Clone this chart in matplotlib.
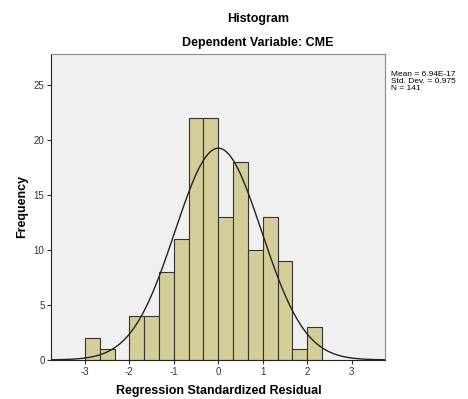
import matplotlib
matplotlib.use("Agg")
import matplotlib.pyplot as plt
import numpy as np

plt.rcParams["font.family"] = ["Liberation Sans", "DejaVu Sans"]

# residual histogram: bin edges every 1/3 from -3 to 2.333
bin_left = np.arange(-9, 7) / 3.0
counts = [2, 1, 0, 4, 4, 8, 11, 22, 22, 13, 18, 10, 13, 9, 1, 3]
bin_width = 1.0 / 3.0

mean_val = 6.94e-17
std_val = 0.975
n_obs = 141

x_ticks = [-3, -2, -1, 0, 1, 2, 3]
y_ticks = [0, 5, 10, 15, 20, 25]

fig = plt.figure(figsize=(4.68, 3.99), dpi=100)
ax = fig.add_axes([0.110, 0.098, 0.713, 0.767])
ax.set_facecolor("#f0f0f0")

ax.bar(bin_left, counts, width=bin_width, align="edge",
       color="#d3ce98", edgecolor="#333333", linewidth=0.8, zorder=2)

# fitted normal curve scaled to counts
xs = np.linspace(-3.75, 3.75, 400)
pdf = np.exp(-0.5 * ((xs - mean_val) / std_val) ** 2) / (std_val * np.sqrt(2 * np.pi))
ax.plot(xs, n_obs * bin_width * pdf, color="#222222", linewidth=1.0, zorder=3)

ax.set_xlim(-3.75, 3.75)
ax.set_ylim(0, 27.8)
ax.set_xticks(x_ticks)
ax.set_xticklabels([str(t) for t in x_ticks])
ax.set_yticks(y_ticks)
ax.tick_params(axis="both", labelsize=7, colors="#333333", length=3, width=0.8,
               direction="out", pad=2)
for side in ("top", "right"):
    ax.spines[side].set_color("#8a8a8a")
for side in ("left", "bottom"):
    ax.spines[side].set_color("#222222")

ax.set_ylabel("Frequency", fontsize=9, fontweight="bold", labelpad=4)
ax.set_xlabel("Regression Standardized Residual", fontsize=9, fontweight="bold",
              labelpad=6)

fig.text(0.551, 0.953, "Histogram", ha="center", va="center",
         fontsize=9, fontweight="bold")
fig.text(0.551, 0.893, "Dependent Variable: CME", ha="center", va="center",
         fontsize=9, fontweight="bold")

fig.text(0.835, 0.822, "Mean = 6.94E-17", fontsize=6, va="top", ha="left")
fig.text(0.835, 0.804, f"Std. Dev. = {std_val}", fontsize=6, va="top", ha="left")
fig.text(0.835, 0.786, f"N = {n_obs}", fontsize=6, va="top", ha="left")

fig.savefig("out.png", dpi=100)
